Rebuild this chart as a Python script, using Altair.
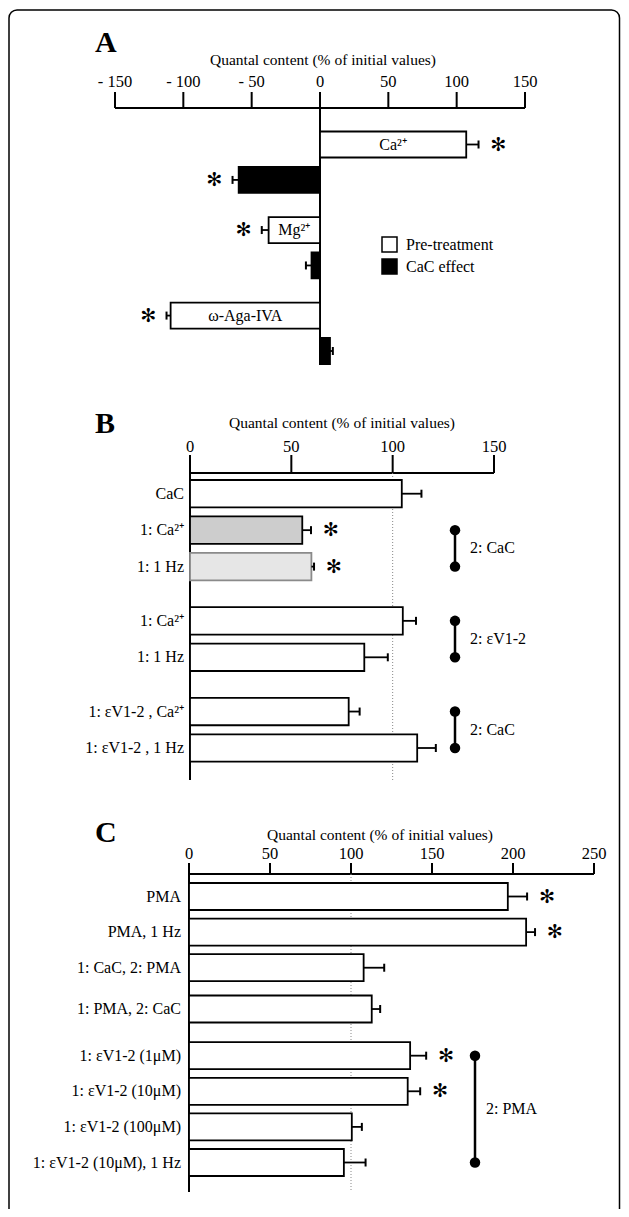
import altair as alt
import pandas as pd

SERIF = "Liberation Serif"
STAR_FONT = "DejaVu Sans"
AXIS_TITLE = "Quantal content (% of initial values)"

# ---------------- Panel A ----------------
a_labels = ["Ca²⁺", "", "Mg²⁺", "", "ω-Aga-IVA", ""]
a_types = ["Pre-treatment", "CaC effect", "Pre-treatment", "CaC effect", "Pre-treatment", "CaC effect"]
a_values = [107, -59.5, -37.6, -6.2, -109.3, 7.3]
a_errors = [116, -64, -42.6, -10.3, -112.3, 9.4]
a_star = [1, 1, 1, 0, 1, 0]
a_groups = [0, 0, 1, 1, 2, 2]
a_ticks = [-150, -100, -50, 0, 50, 100, 150]
a_tick_labels = ["- 150", "- 100", "- 50", "0", "50", "100", "150"]

# ---------------- Panel B ----------------
b_labels = ["CaC", "1: Ca²⁺", "1: 1 Hz", "1: Ca²⁺", "1: 1 Hz", "1: εV1-2 , Ca²⁺", "1: εV1-2 , 1 Hz"]
b_values = [104.5, 55.4, 59.9, 105, 86, 78.3, 112.1]
b_errors = [114.2, 59.7, 61.2, 111.5, 97.6, 83.7, 121.3]
b_star = [0, 1, 1, 0, 0, 0, 0]
b_groups = [0, 0, 0, 1, 1, 2, 2]
b_ticks = [0, 50, 100, 150]
b_tick_labels = ["0", "50", "100", "150"]
b_br_from = [1, 3, 5]
b_br_to = [2, 4, 6]
b_br_text = ["2: CaC", "2: εV1-2", "2: CaC"]

# ---------------- Panel C ----------------
c_labels = ["PMA", "PMA, 1 Hz", "1: CaC, 2: PMA", "1: PMA, 2: CaC",
            "1: εV1-2 (1μM)", "1: εV1-2 (10μM)", "1: εV1-2 (100μM)", "1: εV1-2 (10μM), 1 Hz"]
c_values = [196.8, 208.1, 107.8, 112.8, 136.5, 135, 100.5, 95.6]
c_errors = [208.7, 213.6, 120.5, 118, 146.4, 142.7, 106.7, 109]
c_star = [1, 1, 0, 0, 1, 1, 0, 0]
c_groups = [0, 0, 0, 1, 2, 2, 2, 2]
c_ticks = [0, 50, 100, 150, 200, 250]
c_tick_labels = ["0", "50", "100", "150", "200", "250"]
c_br_from = [4]
c_br_to = [7]
c_br_text = ["2: PMA"]

W = 613
FRAME_R = 611.5


def make_slots(groups, gaps):
    out, s = [], 0.0
    for i, g in enumerate(groups):
        if i > 0:
            s += 1.0
            if g != groups[i - 1]:
                s += gaps[g - 1]
        out.append(s)
    return out


def side_lines(height):
    one = pd.DataFrame({"t": [0]})
    left = alt.Chart(one).mark_rule(color="black", strokeWidth=1.5).encode(
        x=alt.value(1), y=alt.value(0), y2=alt.value(height))
    right = alt.Chart(one).mark_rule(color="black", strokeWidth=1.5).encode(
        x=alt.value(FRAME_R), y=alt.value(0), y2=alt.value(height))
    return [left, right]


def build(letter, df, ticks, tick_labels, g, ref_line=False, row_labels=True,
          inner_labels=False, fill=None, stroke=None, brackets=None, extra=None):
    max_slot = float(df["slot"].max())
    xs = alt.Scale(domain=[ticks[0], ticks[-1]], range=g["x_range"], nice=False, zero=False)
    ys = alt.Scale(domain=[0, max_slot], range=g["y_range"], nice=False, zero=False)
    step = (g["y_range"][1] - g["y_range"][0]) / max_slot
    hs = g["half"] / step

    def X(f):
        return alt.X(f"{f}:Q", scale=xs, axis=None)

    def Y(f):
        return alt.Y(f"{f}:Q", scale=ys, axis=None)

    one = pd.DataFrame({"t": [letter]})
    tdf = pd.DataFrame({"v": ticks, "lab": tick_labels})
    ldf = pd.DataFrame({"lo": [min(ticks)], "hi": [max(ticks)]})

    layers = []
    if extra is not None:
        layers.extend(extra)
    layers.append(alt.Chart(one).mark_text(font=SERIF, fontSize=30, fontWeight="bold",
                                           align="left", baseline="alphabetic", color="black")
                  .encode(text="t:N", x=alt.value(87), y=alt.value(g["letter_y"])))
    layers.append(alt.Chart(pd.DataFrame({"t": [AXIS_TITLE]}))
                  .mark_text(font=SERIF, fontSize=15.5, baseline="middle", align="center", color="black")
                  .encode(text="t:N", x=alt.value(g["title_x"]), y=alt.value(g["title_y"])))
    layers.append(alt.Chart(ldf).mark_rule(strokeWidth=2, color="black")
                  .encode(x=X("lo"), x2="hi", y=alt.value(g["axis_y"])))
    layers.append(alt.Chart(tdf).mark_rule(strokeWidth=2, color="black")
                  .encode(x=X("v"), y=alt.value(g["tick_top"]), y2=alt.value(g["axis_y"])))
    layers.append(alt.Chart(tdf).mark_text(font=SERIF, fontSize=16.5, baseline="middle", color="black")
                  .encode(x=X("v"), y=alt.value(g["label_y"]), text="lab:N"))
    layers.append(alt.Chart(tdf).transform_filter("datum.v == 0").mark_rule(strokeWidth=2, color="black")
                  .encode(x=X("v"), y=alt.value(g["tick_top"]), y2=alt.value(g["bottom"])))
    if ref_line:
        layers.append(alt.Chart(tdf).transform_filter("datum.v == 100")
                      .mark_rule(strokeWidth=1, color="#888888", strokeDash=[1, 2])
                      .encode(x=X("v"), y=alt.value(g["axis_y"]), y2=alt.value(g["bottom"])))

    enc = dict(x=X("zero"), x2="value", y=Y("lo"), y2="hi")
    if fill is not None:
        enc["fill"] = fill
    if stroke is not None:
        enc["stroke"] = stroke
    bars = (alt.Chart(df)
            .transform_calculate(zero="0", lo=f"datum.slot - {hs}", hi=f"datum.slot + {hs}",
                                 fillc="datum.row == 1 ? '#cdcdcd' : (datum.row == 2 ? '#e6e6e6' : 'white')",
                                 strokec="datum.row == 2 ? '#8a8a8a' : 'black'")
            .mark_rect(stroke="black", strokeWidth=1.8)
            .encode(**enc))
    layers.append(bars)
    layers.append(alt.Chart(df).mark_rule(strokeWidth=1.8, color="black")
                  .encode(x=X("value"), x2="err", y=Y("slot")))
    layers.append(alt.Chart(df).mark_tick(orient="vertical", size=8, thickness=2, color="black", opacity=1)
                  .encode(x=X("err"), y=Y("slot")))
    layers.append(alt.Chart(df).transform_filter("datum.star == 1 && datum.err > 0")
                  .mark_text(text="✻", dx=20, font=STAR_FONT, fontSize=19, baseline="middle", color="black")
                  .encode(x=X("err"), y=Y("slot")))
    layers.append(alt.Chart(df).transform_filter("datum.star == 1 && datum.err < 0")
                  .mark_text(text="✻", dx=-18, font=STAR_FONT, fontSize=19, baseline="middle", color="black")
                  .encode(x=X("err"), y=Y("slot")))
    if row_labels:
        layers.append(alt.Chart(df).mark_text(font=SERIF, fontSize=16, align="right", baseline="middle",
                                              color="black")
                      .encode(text="label:N", x=alt.value(g["rowlab_x"]), y=Y("slot")))
    if inner_labels:
        layers.append(alt.Chart(df).transform_filter("datum.label != ''")
                      .transform_calculate(mid="datum.value / 2")
                      .mark_text(font=SERIF, fontSize=16, baseline="middle", color="black")
                      .encode(text="label:N", x=X("mid"), y=Y("slot")))
    if brackets is not None:
        layers.append(alt.Chart(brackets).mark_rule(strokeWidth=2.5, color="black")
                      .encode(x=alt.value(g["br_x"]), y=Y("a"), y2="b"))
        layers.append(alt.Chart(brackets).transform_fold(["a", "b"], as_=["end", "s"])
                      .mark_circle(size=110, color="black", opacity=1)
                      .encode(x=alt.value(g["br_x"]), y=Y("s")))
        layers.append(alt.Chart(brackets).transform_calculate(m="(datum.a + datum.b) / 2")
                      .mark_text(font=SERIF, fontSize=16, align="left", baseline="middle", color="black")
                      .encode(text="txt:N", x=alt.value(g["br_text_x"]), y=Y("m")))
    return alt.layer(*layers).properties(width=W, height=g["height"])


# ---------------- assemble data frames ----------------
a_slots = make_slots(a_groups, [0.415, 0.415])
dfa = pd.DataFrame({"row": range(len(a_values)), "label": a_labels, "type": a_types,
                    "value": a_values, "err": a_errors, "star": a_star, "slot": a_slots})

b_slots = make_slots(b_groups, [0.488, 0.488])
dfb = pd.DataFrame({"row": range(len(b_values)), "label": b_labels, "value": b_values,
                    "err": b_errors, "star": b_star, "slot": b_slots})
brb = pd.DataFrame({"a": [b_slots[i] for i in b_br_from], "b": [b_slots[i] for i in b_br_to],
                    "txt": b_br_text})

c_slots = make_slots(c_groups, [0.16, 0.31])
dfc = pd.DataFrame({"row": range(len(c_values)), "label": c_labels, "value": c_values,
                    "err": c_errors, "star": c_star, "slot": c_slots})
brc = pd.DataFrame({"a": [c_slots[i] for i in c_br_from], "b": [c_slots[i] for i in c_br_to],
                    "txt": c_br_text})

H_A, H_B, H_C = 387, 390, 424

geo_a = dict(x_range=[107, 517], y_range=[136.5, 343], axis_y=100, tick_top=84, label_y=74,
             title_x=315, title_y=52, letter_y=44, bottom=357, half=13, height=H_A)
geo_b = dict(x_range=[182, 486], y_range=[98.7, 353], axis_y=78, tick_top=60, label_y=52,
             title_x=334, title_y=28, letter_y=38, bottom=385, half=13.7, height=H_B,
             rowlab_x=176, br_x=447, br_text_x=462)
geo_c = dict(x_range=[181, 586], y_range=[111.5, 377.5], axis_y=89, tick_top=78, label_y=69,
             title_x=372, title_y=50, letter_y=57, bottom=407, half=13.5, height=H_C,
             rowlab_x=173, br_x=467, br_text_x=478)

# outer frame: rounded top (clipped to panel A) and side lines in panels B and C
frame = (alt.Chart(pd.DataFrame({"t": [0]}))
         .mark_rect(fillOpacity=0, stroke="black", strokeWidth=1.5, cornerRadius=8, clip=True)
         .encode(x=alt.value(1), x2=alt.value(FRAME_R), y=alt.value(2), y2=alt.value(H_A + 40)))

fill_a = alt.Fill("type:N",
                  scale=alt.Scale(domain=["Pre-treatment", "CaC effect"], range=["white", "black"]),
                  legend=alt.Legend(title=None, orient="none", legendX=373, legendY=228,
                                    symbolType="square", symbolSize=225, symbolStrokeColor="black",
                                    symbolStrokeWidth=1.5, symbolOpacity=1, labelFont=SERIF,
                                    labelFontSize=16, labelColor="black", rowPadding=1,
                                    labelOffset=8, padding=0))

panel_a = build("A", dfa, a_ticks, a_tick_labels, geo_a, row_labels=False, inner_labels=True,
                fill=fill_a, extra=[frame])
panel_b = build("B", dfb, b_ticks, b_tick_labels, geo_b, ref_line=True,
                fill=alt.Fill("fillc:N", scale=None), stroke=alt.Stroke("strokec:N", scale=None),
                brackets=brb, extra=side_lines(H_B))
panel_c = build("C", dfc, c_ticks, c_tick_labels, geo_c, ref_line=True,
                fill=alt.value("white"), brackets=brc, extra=side_lines(H_C))

chart = (alt.vconcat(panel_a, panel_b, panel_c, spacing=0, bounds="flush")
         .properties(padding={"left": 0, "top": 0, "right": 0, "bottom": 0})
         .configure_view(strokeWidth=0))

chart.save("out.html", embed_options={"renderer": "svg", "actions": False})
